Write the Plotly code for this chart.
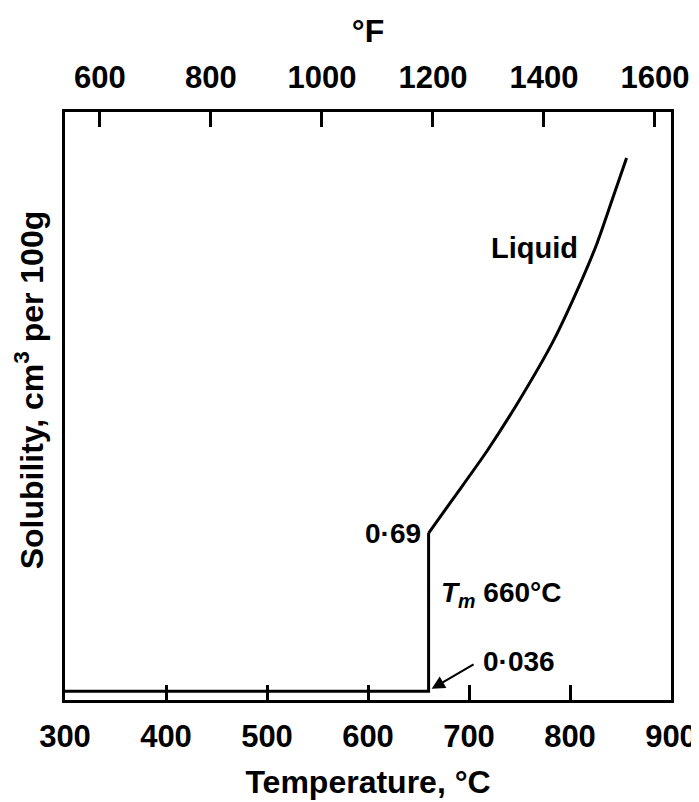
import plotly.graph_objects as go

# Data (hydrogen solubility in aluminium)
solid_temp_c = [300, 660, 660]
solid_solubility = [0.036, 0.036, 0.69]
liquid_temp_c = [660, 684, 718, 750, 783, 810, 827, 842, 856]
liquid_solubility = [0.69, 0.83, 1.03, 1.24, 1.48, 1.72, 1.89, 2.07, 2.24]

c_ticks = [300, 400, 500, 600, 700, 800, 900]
f_ticks = [600, 800, 1000, 1200, 1400, 1600]

T_melt = 660
S_solid = 0.036
S_liquid = 0.69

FONT = "Liberation Sans"
fig = go.Figure()

fig.add_trace(go.Scatter(x=solid_temp_c, y=solid_solubility, mode="lines",
                         line=dict(color="black", width=3),
                         hoverinfo="skip", showlegend=False))
fig.add_trace(go.Scatter(x=liquid_temp_c, y=liquid_solubility, mode="lines",
                         line=dict(color="black", width=3, shape="spline", smoothing=0.8),
                         hoverinfo="skip", showlegend=False))
# helper trace so that the °F axis is drawn
fig.add_trace(go.Scatter(x=f_ticks, y=[None] * len(f_ticks), xaxis="x2", yaxis="y",
                         mode="lines", showlegend=False, hoverinfo="skip"))

tickfont = dict(family=FONT, size=31, color="black", weight="bold")
titlefont = dict(family=FONT, size=32, color="black", weight="bold")

# page body adds an 8 px margin, so the figure is 8 px smaller each way
fig.update_layout(
    width=691, height=794,
    margin=dict(l=57, r=28, t=104, b=102),
    paper_bgcolor="white", plot_bgcolor="white",
    showlegend=False,
    xaxis=dict(range=[300, 900], tickvals=c_ticks, ticks="inside", ticklen=15,
               tickwidth=2.5, tickcolor="black", showline=True, linecolor="black",
               linewidth=3, showgrid=False, zeroline=False, tickfont=tickfont,
               ticklabelstandoff=7, automargin=False,
               title=dict(text="Temperature, °C", font=titlefont, standoff=18)),
    xaxis2=dict(range=[537, 1629], tickvals=f_ticks, overlaying="x", side="top",
                anchor="y", ticks="inside", ticklen=15, tickwidth=2.5,
                tickcolor="black", showline=True, linecolor="black", linewidth=3,
                showgrid=False, zeroline=False, tickfont=tickfont,
                ticklabelstandoff=9, automargin=False,
                title=dict(text="°F", font=titlefont, standoff=8)),
    yaxis=dict(range=[0, 2.43], showticklabels=False, ticks="", showline=True,
               linecolor="black", linewidth=3, mirror=True, showgrid=False,
               zeroline=False, automargin=False),
)

fig.add_annotation(text="Solubility, cm<sup>3</sup> per 100g", textangle=-90,
                   xref="paper", yref="paper", x=-0.059, y=0.527,
                   xanchor="center", yanchor="middle", showarrow=False,
                   font=titlefont)

annfont = dict(family=FONT, size=28, color="black", weight="bold")
fig.add_annotation(x=T_melt, y=S_liquid, text="0·69", showarrow=False,
                   xanchor="right", yanchor="middle", xshift=-6, font=annfont)
fig.add_annotation(x=T_melt, y=0.434, text="<i>T</i><sub><i>m</i></sub> 660°C",
                   showarrow=False, xanchor="left", yanchor="middle", xshift=10,
                   font=annfont)
fig.add_annotation(x=T_melt + 3, y=S_solid + 0.01, ax=T_melt + 46, ay=S_solid + 0.115,
                   axref="x", ayref="y", xref="x", yref="y", text="",
                   showarrow=True, arrowhead=2, arrowsize=1.2, arrowwidth=2.2,
                   arrowcolor="black")
fig.add_annotation(x=T_melt + 52, y=S_solid + 0.125, text="0·036", showarrow=False,
                   xanchor="left", yanchor="middle", font=annfont)
fig.add_annotation(x=810, y=1.87, text="Liquid", showarrow=False,
                   xanchor="right", yanchor="middle",
                   font=dict(family=FONT, size=29, color="black", weight="bold"))

fig.write_html("out.html")
